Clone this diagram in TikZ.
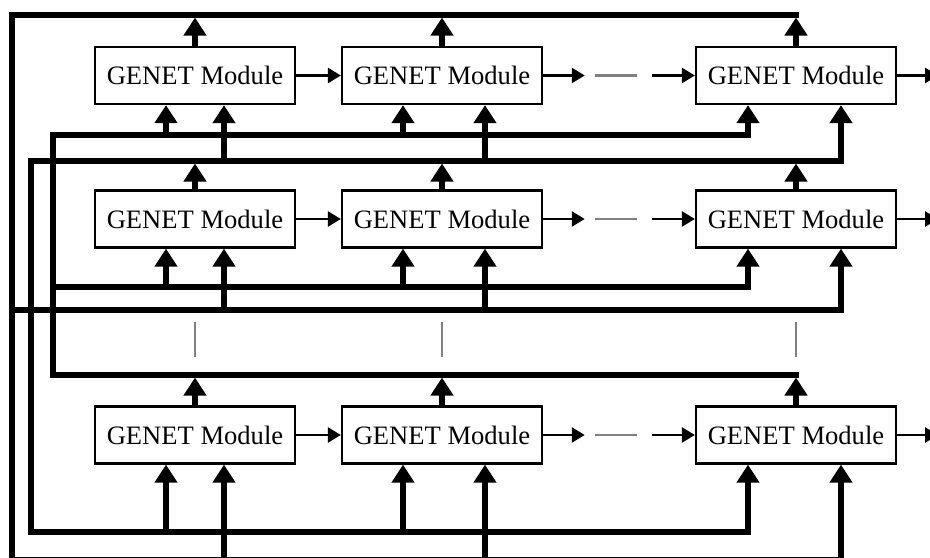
\documentclass[tikz,border=0pt]{standalone}
\usepackage{fontspec}
\setmainfont{Liberation Serif}
\usetikzlibrary{arrows.meta,calc}

\tikzset{
  module/.style={draw, line width=1.6pt, minimum width=5cm, minimum height=1.425cm,
    inner sep=0pt, font=\fontsize{18.9}{22}\selectfont},
  gapbox/.style={minimum width=1.05cm, minimum height=0.2cm, inner sep=0pt},
  bus/.style={line width=3.6pt, line cap=rect},
  feed/.style={line width=3.6pt, -{Triangle[length=12.8pt,width=15.6pt]}},
  link/.style={line width=1.6pt, -{Triangle[length=9.2pt,width=10.7pt]}},
  gap/.style={gray, line width=1.8pt},
}

\begin{document}
\begin{tikzpicture}[x=0.025cm, y=-0.025cm]
    \useasboundingbox (0,0) rectangle (930,558);

    % Modules
    \node[module] (m11) at (195,75.5) {GENET Module};
    \node[module] (m12) at (442,75.5) {GENET Module};
    \node[module] (m13) at (796,75.5) {GENET Module};
    \node[module] (m21) at (195,219) {GENET Module};
    \node[module] (m22) at (442,219) {GENET Module};
    \node[module] (m23) at (796,219) {GENET Module};
    \node[module] (m31) at (195,435) {GENET Module};
    \node[module] (m32) at (442,435) {GENET Module};
    \node[module] (m33) at (796,435) {GENET Module};

    % Gaps between the second and the last column
    \node[gapbox] (g1) at (616,75.5) {};
    \node[gapbox] (g2) at (616,219) {};
    \node[gapbox] (g3) at (616,435) {};

    % Corners of the buses
    \coordinate (a1) at (12,15);
    \coordinate (a2) at (12,310);
    \coordinate (a3) at (12,560);
    \coordinate (b1) at (31,161);
    \coordinate (b2) at (31,532);
    \coordinate (c1) at (53,135);
    \coordinate (c2) at (53,287);
    \coordinate (c3) at (53,375);

    % Columns of the inputs
    \coordinate (x1a) at (166,0);
    \coordinate (x1b) at (224,0);
    \coordinate (x2a) at (403,0);
    \coordinate (x2b) at (485,0);
    \coordinate (x3a) at (748,0);
    \coordinate (x3b) at (841,0);
    \coordinate (ex) at (938,0);
    \coordinate (v1) at (0,322);
    \coordinate (v2) at (0,357);

    % Chain arrows
    \draw[link] (m11) -- (m12);
    \draw[link, shorten >=0.25cm] (m12) -- (g1);
    \draw[gap] (g1.west) -- (g1.east);
    \draw[link, shorten <=0.375cm] (g1) -- (m13);
    \draw[link] (m13) -- (m13 -| ex);

    \draw[link] (m21) -- (m22);
    \draw[link, shorten >=0.25cm] (m22) -- (g2);
    \draw[gap] (g2.west) -- (g2.east);
    \draw[link, shorten <=0.375cm] (g2) -- (m23);
    \draw[link] (m23) -- (m23 -| ex);

    \draw[link] (m31) -- (m32);
    \draw[link, shorten >=0.25cm] (m32) -- (g3);
    \draw[gap] (g3.west) -- (g3.east);
    \draw[link, shorten <=0.375cm] (g3) -- (m33);
    \draw[link] (m33) -- (m33 -| ex);

    % Rows left out
    \draw[gap] (m21 |- v1) -- (m21 |- v2);
    \draw[gap] (m22 |- v1) -- (m22 |- v2);
    \draw[gap] (m23 |- v1) -- (m23 |- v2);

    % Outputs of row 1
    \draw[bus] (m13 |- a1) -- (a1) -- (a3) -- (x3b |- a3);
    \draw[bus] (a2) -- (x3b |- a2);
    \draw[feed, shorten >=1.8pt] (m11.north) -- (m11.north |- a1);
    \draw[feed, shorten >=1.8pt] (m12.north) -- (m12.north |- a1);
    \draw[feed, shorten >=1.8pt] (m13.north) -- (m13.north |- a1);

    % Outputs of row 2
    \draw[bus] (x3b |- b1) -- (b1) -- (b2) -- (x3a |- b2);
    \draw[feed, shorten >=1.8pt] (m21.north) -- (m21.north |- b1);
    \draw[feed, shorten >=1.8pt] (m22.north) -- (m22.north |- b1);
    \draw[feed, shorten >=1.8pt] (m23.north) -- (m23.north |- b1);

    % Outputs of row 3
    \draw[bus] (m33 |- c3) -- (c3) -- (c1) -- (x3a |- c1);
    \draw[bus] (c2) -- (x3a |- c2);
    \draw[feed, shorten >=1.8pt] (m31.north) -- (m31.north |- c3);
    \draw[feed, shorten >=1.8pt] (m32.north) -- (m32.north |- c3);
    \draw[feed, shorten >=1.8pt] (m33.north) -- (m33.north |- c3);

    % Inputs of row 1
    \draw[feed] (x1a |- c1) -- (x1a |- m11.south);
    \draw[feed] (x1b |- b1) -- (x1b |- m11.south);
    \draw[feed] (x2a |- c1) -- (x2a |- m12.south);
    \draw[feed] (x2b |- b1) -- (x2b |- m12.south);
    \draw[feed] (x3a |- c1) -- (x3a |- m13.south);
    \draw[feed] (x3b |- b1) -- (x3b |- m13.south);

    % Inputs of row 2
    \draw[feed] (x1a |- c2) -- (x1a |- m21.south);
    \draw[feed] (x1b |- a2) -- (x1b |- m21.south);
    \draw[feed] (x2a |- c2) -- (x2a |- m22.south);
    \draw[feed] (x2b |- a2) -- (x2b |- m22.south);
    \draw[feed] (x3a |- c2) -- (x3a |- m23.south);
    \draw[feed] (x3b |- a2) -- (x3b |- m23.south);

    % Inputs of row 3
    \draw[feed] (x1a |- b2) -- (x1a |- m31.south);
    \draw[feed] (x1b |- a3) -- (x1b |- m31.south);
    \draw[feed] (x2a |- b2) -- (x2a |- m32.south);
    \draw[feed] (x2b |- a3) -- (x2b |- m32.south);
    \draw[feed] (x3a |- b2) -- (x3a |- m33.south);
    \draw[feed] (x3b |- a3) -- (x3b |- m33.south);
\end{tikzpicture}
\end{document}
